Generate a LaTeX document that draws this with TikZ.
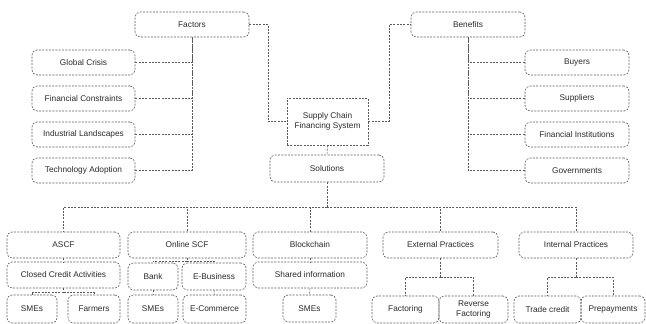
\documentclass[tikz,border=0pt]{standalone}
\usepackage{fontspec}
\setmainfont{Liberation Sans}
\definecolor{ln}{HTML}{5A5A5A}
\definecolor{tx}{HTML}{2A2A2A}
\begin{document}
\begin{tikzpicture}[x=1pt,y=-1pt,
  conn/.style={draw=ln, line width=0.6pt, dash pattern=on 2pt off 1.3pt},
  box/.style={conn, rounded corners=5pt, inner sep=0pt, align=center, text=tx, font=\fontsize{8.3}{9.5}\selectfont},
  sbox/.style={box, rounded corners=0pt}]
\useasboundingbox (0,0) rectangle (646,324);
% top level
\node[box, minimum width=114, minimum height=25] (factors) at (192,24.5) {Factors};
\node[box, minimum width=114, minimum height=25] (benefits) at (468,24.5) {Benefits};
% left column
\node[box, minimum width=103, minimum height=25] (gc) at (83.5,62.5) {Global Crisis};
\node[box, minimum width=103, minimum height=25] (fc) at (83.5,98.5) {Financial Constraints};
\node[box, minimum width=103, minimum height=25] (il) at (83.5,134.5) {Industrial Landscapes};
\node[box, minimum width=103, minimum height=25] (ta) at (83.5,170.5) {Technology Adoption};
% right column
\node[box, minimum width=104, minimum height=25] (bu) at (577,62.5) {Buyers};
\node[box, minimum width=104, minimum height=25] (su) at (577,98.5) {Suppliers};
\node[box, minimum width=104, minimum height=25] (fi) at (577,134.5) {Financial Institutions};
\node[box, minimum width=104, minimum height=25] (go) at (577,170.5) {Governments};
% centre
\node[sbox, minimum width=81, minimum height=47] (scfs) at (327.5,121.5) {Supply Chain\\Financing System};
\node[box, minimum width=114, minimum height=27] (sol) at (327,168.5) {Solutions};
% level 1
\node[box, minimum width=113, minimum height=26] (ascf) at (63.5,245) {ASCF};
\node[box, minimum width=118, minimum height=26] (oscf) at (187,245) {Online SCF};
\node[box, minimum width=114, minimum height=26] (bc) at (310,245) {Blockchain};
\node[box, minimum width=115, minimum height=26] (ep) at (440.5,245) {External Practices};
\node[box, minimum width=114, minimum height=26] (ip) at (576,245) {Internal Practices};
% level 2
\node[box, minimum width=113, minimum height=26] (cca) at (63.5,275) {Closed Credit Activities};
\node[box, minimum width=50, minimum height=27] (bank) at (153,276.5) {Bank};
\node[box, minimum width=64, minimum height=27] (eb) at (214,276.5) {E-Business};
\node[box, minimum width=114, minimum height=26] (si) at (310,275) {Shared information};
% level 3
\node[box, minimum width=50, minimum height=28] (sa) at (32,309) {SMEs};
\node[box, minimum width=52, minimum height=28] (fa) at (94,309) {Farmers};
\node[box, minimum width=50, minimum height=28] (sb) at (153,309) {SMEs};
\node[box, minimum width=63, minimum height=28] (ec) at (214.5,309) {E-Commerce};
\node[box, minimum width=53, minimum height=27] (sc) at (309.5,308.5) {SMEs};
\node[box, minimum width=67, minimum height=27] (fac) at (405.5,309.5) {Factoring};
\node[box, minimum width=69, minimum height=27] (rf) at (473.5,309.5) {Reverse\\Factoring};
\node[box, minimum width=67, minimum height=27] (tc) at (547.5,309.5) {Trade credit};
\node[box, minimum width=64, minimum height=27] (pp) at (613,309.5) {Prepayments};
% coordinates
\coordinate (fk) at (268,24.5);
\coordinate (bk) at (389,121.5);
\coordinate (bus) at (327,207);
\coordinate (ccab) at (63.5,292.5);
\coordinate (oscfb) at (187,261);
\coordinate (epb) at (440.5,277);
\coordinate (ipb) at (576,277);
% connectors: factors / benefits
\foreach \n in {gc,fc,il,ta} \draw[conn] (\n.east) -| (factors.south);
\foreach \n in {bu,su,fi,go} \draw[conn] (\n.west) -| (benefits.south);
\draw[conn] (factors.east) -- (fk) |- (scfs.west);
\draw[conn] (scfs.east) -- (bk) |- (benefits.west);
\draw[conn] (scfs.south) -- (sol.north);
% solutions bus
\draw[conn] (sol.south) -- (bus);
\foreach \n in {ascf,oscf,bc,ep,ip} \draw[conn] (bus) -| (\n.north);
% sub-trees
\draw[conn] (ascf.south) -- (cca.north);
\draw[conn] (cca.south) -- (ccab);
\draw[conn] (ccab) -| (sa.north);
\draw[conn] (ccab) -| (fa.north);
\draw[conn] (oscf.south) -- (oscfb);
\draw[conn] (oscfb) -| (bank.north);
\draw[conn] (oscfb) -| (eb.north);
\draw[conn] (bank.south) -- (sb.north);
\draw[conn] (eb.south) -- (ec.north);
\draw[conn] (bc.south) -- (si.north);
\draw[conn] (si.south) -- (sc.north);
\draw[conn] (ep.south) -- (epb);
\draw[conn] (epb) -| (fac.north);
\draw[conn] (epb) -| (rf.north);
\draw[conn] (ip.south) -- (ipb);
\draw[conn] (ipb) -| (tc.north);
\draw[conn] (ipb) -| (pp.north);
\end{tikzpicture}
\end{document}
